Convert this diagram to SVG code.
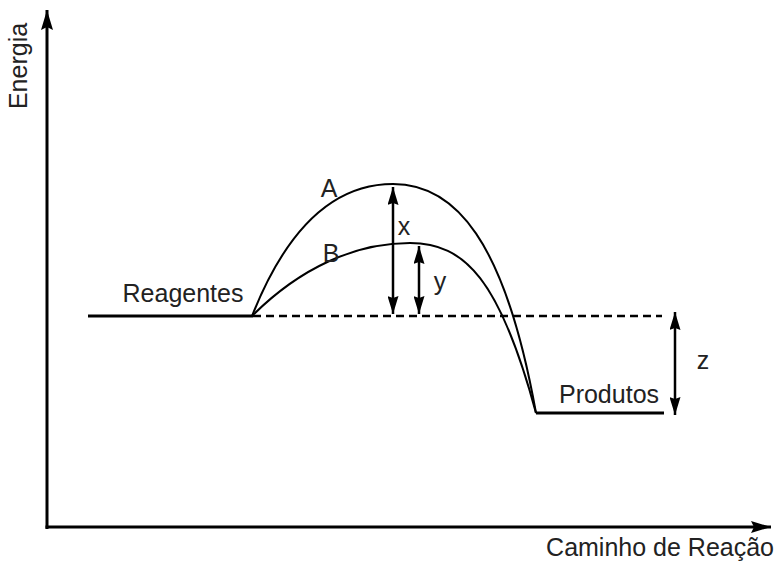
<svg xmlns="http://www.w3.org/2000/svg" width="780" height="562" viewBox="0 0 780 562">
<defs>
<marker id="ah" viewBox="0 0 18 11" refX="18" refY="5.5" markerWidth="18" markerHeight="11" markerUnits="userSpaceOnUse" orient="auto-start-reverse">
<path d="M0,0 L18,5.5 L0,11 L2,5.5 z" fill="#000"/>
</marker>
<marker id="axh" viewBox="0 0 20 12" refX="20" refY="6" markerWidth="20" markerHeight="12" markerUnits="userSpaceOnUse" orient="auto">
<path d="M0,0 L20,6 L0,12 L3,6 z" fill="#000"/>
</marker>
</defs>
<style>
text{font-family:"Liberation Sans",Arial,sans-serif;font-size:25px;fill:#222}
.ln{stroke:#000;fill:none}
</style>
<rect width="780" height="562" fill="#fff"/>
<g id="axes">
<path class="ln" d="M47,529 L47,10" stroke-width="3" marker-end="url(#axh)"/>
<path class="ln" d="M45.5,527 L771,527" stroke-width="3" marker-end="url(#axh)"/>
<text x="0" y="0" transform="translate(27,66) rotate(-90)" text-anchor="middle">Energia</text>
<text x="774" y="556" text-anchor="end">Caminho de Reação</text>
</g>
<g id="reagentes">
<path class="ln" d="M88,316 L253,316" stroke-width="3"/>
<text x="183" y="302" text-anchor="middle">Reagentes</text>
</g>
<g id="produtos">
<path class="ln" d="M536,413 L664,413" stroke-width="3"/>
<text x="609" y="403" text-anchor="middle">Produtos</text>
</g>
<g id="connectors">
<path class="ln" d="M253,316 L662,316" stroke-width="2.5" stroke-dasharray="8,5"/>
<path class="ln" d="M252,316 C290,220 340,184 393,184 C455,184 505,240 536,413" stroke-width="2"/>
<path class="ln" d="M252,316 C300,268 355,243 410,243 C465,243 500,280 536,413" stroke-width="2"/>
<path class="ln" d="M393,187 L393,314" stroke-width="2.5" marker-start="url(#ah)" marker-end="url(#ah)"/>
<path class="ln" d="M419,246 L419,314" stroke-width="2.5" marker-start="url(#ah)" marker-end="url(#ah)"/>
<path class="ln" d="M675,312 L675,415" stroke-width="2.5" marker-start="url(#ah)" marker-end="url(#ah)"/>
</g>
<g id="labels">
<text x="329" y="197" text-anchor="middle">A</text>
<text x="331" y="262" text-anchor="middle">B</text>
<text x="404" y="235" text-anchor="middle">x</text>
<text x="440" y="290" text-anchor="middle">y</text>
<text x="703" y="369" text-anchor="middle">z</text>
</g>
</svg>
